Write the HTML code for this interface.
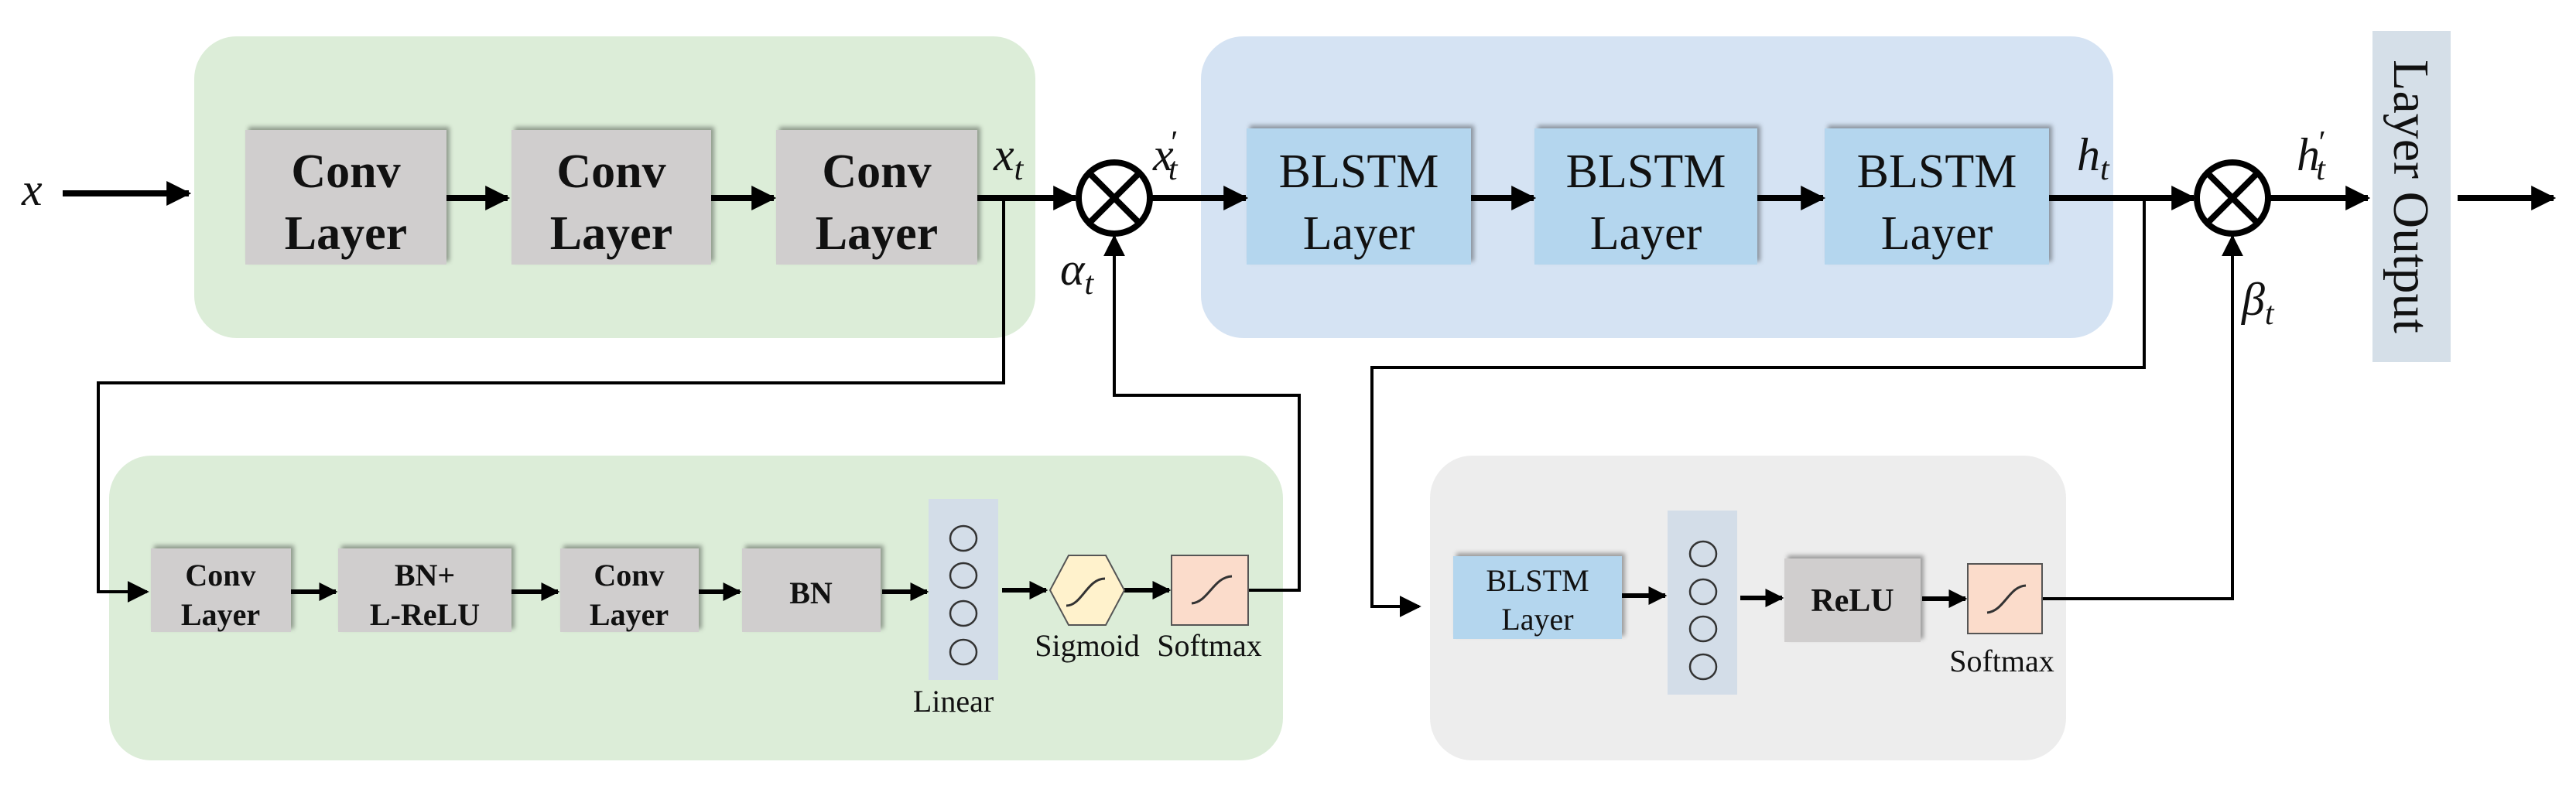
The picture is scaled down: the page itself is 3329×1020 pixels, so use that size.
<!DOCTYPE html>
<html><head><meta charset="utf-8"><style>
html,body{margin:0;padding:0;background:#fff;}
svg{display:block;}
text{font-family:"Liberation Serif","DejaVu Serif",serif;fill:#111;}
.m{font-style:italic;font-size:60px;}
</style></head><body>
<svg width="3329" height="1020" viewBox="0 0 3329 1020" xmlns="http://www.w3.org/2000/svg">
<defs>
<marker id="a" viewBox="0 0 10 10" refX="9" refY="5" markerWidth="4" markerHeight="4" orient="auto" markerUnits="strokeWidth"><path d="M0,0 L10,5 L0,10 z" fill="#000"/></marker>
<marker id="b" viewBox="0 0 10 10" refX="9" refY="5" markerWidth="7" markerHeight="7" orient="auto" markerUnits="strokeWidth"><path d="M0,0 L10,5 L0,10 z" fill="#000"/></marker>
<filter id="s" x="-10%" y="-10%" width="130%" height="130%"><feDropShadow dx="4" dy="-4" stdDeviation="3" flood-color="#000" flood-opacity="0.35"/></filter>
</defs>
<!-- backgrounds -->
<rect x="251" y="47" width="1087" height="390" rx="55" fill="#dcedd8"/>
<rect x="1552" y="47" width="1179" height="390" rx="55" fill="#d5e3f3"/>
<rect x="141" y="589" width="1517" height="394" rx="55" fill="#dcedd8"/>
<rect x="1848" y="589" width="822" height="394" rx="55" fill="#ededed"/>

<!-- top conv boxes -->
<g filter="url(#s)" fill="#d0cece">
<rect x="317" y="168" width="260" height="174"/>
<rect x="661" y="168" width="258" height="174"/>
<rect x="1003" y="168" width="260" height="174"/>
</g>
<g font-weight="bold" font-size="62" text-anchor="middle">
<text x="447" y="242">Conv</text><text x="447" y="322">Layer</text>
<text x="790" y="242">Conv</text><text x="790" y="322">Layer</text>
<text x="1133" y="242">Conv</text><text x="1133" y="322">Layer</text>
</g>
<!-- BLSTM top -->
<g filter="url(#s)" fill="#b4d6ee">
<rect x="1611" y="166" width="290" height="176"/>
<rect x="1983" y="166" width="288" height="176"/>
<rect x="2358" y="166" width="290" height="176"/>
</g>
<g font-size="62" text-anchor="middle">
<text x="1756" y="242">BLSTM</text><text x="1756" y="322">Layer</text>
<text x="2127" y="242">BLSTM</text><text x="2127" y="322">Layer</text>
<text x="2503" y="242">BLSTM</text><text x="2503" y="322">Layer</text>
</g>
<!-- Layer output -->
<rect x="3066" y="40" width="101" height="428" fill="#d5dfe8"/>
<text x="3116" y="254" font-size="66" text-anchor="middle" transform="rotate(90 3116 254)" dy="22">Layer Output</text>

<!-- top main arrows -->
<g stroke="#000" stroke-width="8" fill="none">
<line x1="81" y1="250" x2="244" y2="250" marker-end="url(#a)"/>
<line x1="577" y1="256" x2="656" y2="256" marker-end="url(#a)"/>
<line x1="919" y1="256" x2="1000" y2="256" marker-end="url(#a)"/>
<line x1="1263" y1="256" x2="1390" y2="256" marker-end="url(#a)"/>
<line x1="1489" y1="256" x2="1610" y2="256" marker-end="url(#a)"/>
<line x1="1901" y1="256" x2="1982" y2="256" marker-end="url(#a)"/>
<line x1="2271" y1="256" x2="2356" y2="256" marker-end="url(#a)"/>
<line x1="2648" y1="256" x2="2835" y2="256" marker-end="url(#a)"/>
<line x1="2934" y1="256" x2="3060" y2="256" marker-end="url(#a)"/>
<line x1="3176" y1="256" x2="3300" y2="256" marker-end="url(#a)"/>
</g>
<!-- otimes -->
<g stroke="#000" stroke-width="8" fill="none">
<circle cx="1440" cy="256" r="46"/>
<line x1="1408" y1="224" x2="1472" y2="288"/><line x1="1472" y1="224" x2="1408" y2="288"/>
<circle cx="2885" cy="256" r="46"/>
<line x1="2853" y1="224" x2="2917" y2="288"/><line x1="2917" y1="224" x2="2853" y2="288"/>
</g>
<!-- math labels -->
<text class="m" x="28" y="265">x</text>
<text class="m" x="1284" y="220">x<tspan font-size="42" dy="12">t</tspan></text>
<text class="m" x="1490" y="220">x<tspan font-size="42" dx="-6" dy="-22">′</tspan><tspan font-size="42" dx="-10" dy="34">t</tspan></text>
<text class="m" x="1370" y="368">α<tspan font-size="42" dy="12">t</tspan></text>
<text class="m" x="2684" y="220">h<tspan font-size="42" dy="12">t</tspan></text>
<text class="m" x="2968" y="220">h<tspan font-size="42" dx="-4" dy="-22">′</tspan><tspan font-size="42" dx="-10" dy="34">t</tspan></text>
<text class="m" x="2897" y="407">β<tspan font-size="42" dy="12">t</tspan></text>

<!-- thin connectors -->
<g stroke="#000" stroke-width="4" fill="none">
<polyline points="1297,256 1297,495 127,495 127,765 190,765" marker-end="url(#b)"/>
<polyline points="1613,763 1679,763 1679,511 1440,511 1440,306" marker-end="url(#b)"/>
<polyline points="2771,256 2771,475 1773,475 1773,784 1834,784" marker-end="url(#b)"/>
<polyline points="2639,774 2885,774 2885,306" marker-end="url(#b)"/>
</g>

<!-- bottom-left chain -->
<g filter="url(#s)" fill="#d0cece">
<rect x="195" y="709" width="181" height="108"/>
<rect x="437" y="709" width="224" height="108"/>
<rect x="724" y="709" width="179" height="108"/>
<rect x="959" y="709" width="179" height="108"/>
</g>
<g font-weight="bold" font-size="40" text-anchor="middle">
<text x="285" y="757">Conv</text><text x="285" y="808">Layer</text>
<text x="549" y="757">BN+</text><text x="549" y="808">L-ReLU</text>
<text x="813" y="757">Conv</text><text x="813" y="808">Layer</text>
<text x="1048" y="780">BN</text>
</g>
<g stroke="#000" stroke-width="6" fill="none">
<line x1="376" y1="765" x2="434" y2="765" marker-end="url(#a)"/>
<line x1="661" y1="765" x2="721" y2="765" marker-end="url(#a)"/>
<line x1="903" y1="765" x2="956" y2="765" marker-end="url(#a)"/>
<line x1="1140" y1="765" x2="1198" y2="765" marker-end="url(#a)"/>
<line x1="1295" y1="763" x2="1352" y2="763" marker-end="url(#a)"/>
<line x1="1453" y1="763" x2="1511" y2="763" marker-end="url(#a)"/>
</g>
<rect x="1200" y="645" width="90" height="234" fill="#d3dde8"/>
<g fill="none" stroke="#333" stroke-width="2.5">
<ellipse cx="1245" cy="696" rx="17" ry="16"/><ellipse cx="1245" cy="744" rx="17" ry="16"/>
<ellipse cx="1245" cy="793" rx="17" ry="16"/><ellipse cx="1245" cy="843" rx="17" ry="16"/>
</g>
<polygon points="1357,763 1381,718 1429,718 1453,763 1429,808 1381,808" fill="#fff2cc" stroke="#555" stroke-width="2"/>
<path d="M1378,783 C1398,783 1405,748 1428,748" stroke="#333" stroke-width="3" fill="none"/>
<rect x="1514" y="718" width="99" height="90" fill="#fbdccb" stroke="#555" stroke-width="2"/>
<path d="M1540,780 C1562,778 1568,746 1592,745" stroke="#333" stroke-width="3" fill="none"/>
<g font-size="40" text-anchor="middle">
<text x="1405" y="848">Sigmoid</text>
<text x="1563" y="848">Softmax</text>
<text x="1232" y="920">Linear</text>
</g>

<!-- bottom-right chain -->
<rect x="1878" y="719" width="218" height="107" fill="#b4d6ee" filter="url(#s)"/>
<g font-size="40" text-anchor="middle">
<text x="1987" y="764">BLSTM</text><text x="1987" y="814">Layer</text>
</g>
<rect x="2155" y="660" width="90" height="238" fill="#d3dde8"/>
<g fill="none" stroke="#333" stroke-width="2.5">
<ellipse cx="2201" cy="716" rx="17" ry="16"/><ellipse cx="2201" cy="765" rx="17" ry="16"/>
<ellipse cx="2201" cy="813" rx="17" ry="16"/><ellipse cx="2201" cy="862" rx="17" ry="16"/>
</g>
<rect x="2306" y="722" width="176" height="108" fill="#d0cece" filter="url(#s)"/>
<text x="2394" y="790" font-size="42" font-weight="bold" text-anchor="middle">ReLU</text>
<rect x="2543" y="729" width="96" height="90" fill="#fbdccb" stroke="#555" stroke-width="2"/>
<path d="M2568,792 C2590,790 2596,758 2618,757" stroke="#333" stroke-width="3" fill="none"/>
<text x="2587" y="868" font-size="40" text-anchor="middle">Softmax</text>
<g stroke="#000" stroke-width="6" fill="none">
<line x1="2096" y1="770" x2="2152" y2="770" marker-end="url(#a)"/>
<line x1="2249" y1="773" x2="2303" y2="773" marker-end="url(#a)"/>
<line x1="2484" y1="774" x2="2540" y2="774" marker-end="url(#a)"/>
</g>
</svg>
</body></html>
